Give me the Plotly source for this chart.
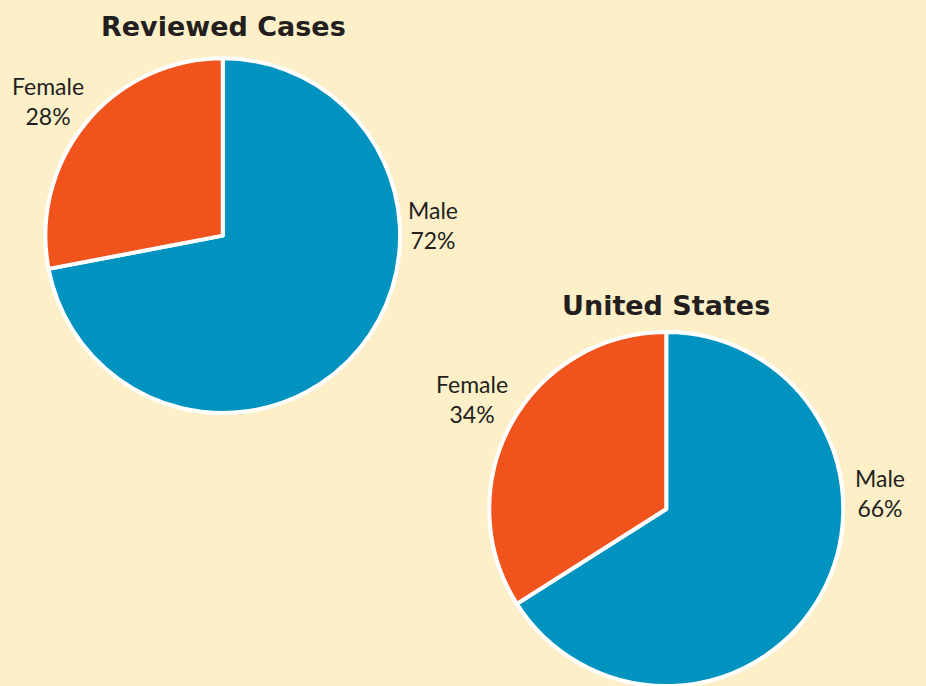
import plotly.graph_objects as go

BG = "#FDF0C9"
BLUE = "#0093BF"
ORANGE = "#F0531C"
INK = "#231F20"

labels = ["Male", "Female"]
reviewed_pct = [72, 28]
us_pct = [66, 34]
titles = ["Reviewed Cases", "United States"]

fig = go.Figure()

fig.add_trace(go.Pie(
    labels=labels, values=reviewed_pct, sort=False,
    direction="clockwise", rotation=0,
    marker=dict(colors=[BLUE, ORANGE], line=dict(color="white", width=4)),
    textinfo="none", hoverinfo="label+percent", showlegend=False,
    domain=dict(x=[0.0486, 0.4325], y=[0.398, 0.915]),
))

fig.add_trace(go.Pie(
    labels=labels, values=us_pct, sort=False,
    direction="clockwise", rotation=0,
    marker=dict(colors=[BLUE, ORANGE], line=dict(color="white", width=4)),
    textinfo="none", hoverinfo="label+percent", showlegend=False,
    domain=dict(x=[0.528, 0.911], y=[0.0, 0.516]),
))

title_font = dict(family="DejaVu Sans, sans-serif", size=27, color=INK)
label_font = dict(family="Lato, sans-serif", size=23, color=INK)

annotations = [
    dict(x=223 / 926, y=1 - 27 / 686, text=f"<b>{titles[0]}</b>", font=title_font),
    dict(x=666 / 926, y=1 - 305 / 686, text=f"<b>{titles[1]}</b>", font=title_font),
    dict(x=48 / 926, y=1 - 101 / 686, text=f"{labels[1]}<br>{reviewed_pct[1]}%", font=label_font),
    dict(x=433 / 926, y=1 - 225 / 686, text=f"{labels[0]}<br>{reviewed_pct[0]}%", font=label_font),
    dict(x=472 / 926, y=1 - 399 / 686, text=f"{labels[1]}<br>{us_pct[1]}%", font=label_font),
    dict(x=880 / 926, y=1 - 493 / 686, text=f"{labels[0]}<br>{us_pct[0]}%", font=label_font),
]
for a in annotations:
    a.update(xref="paper", yref="paper", showarrow=False, xanchor="center", yanchor="middle")

fig.update_layout(
    width=926, height=686,
    margin=dict(l=0, r=0, t=0, b=0),
    paper_bgcolor=BG, plot_bgcolor=BG,
    annotations=annotations,
)

# drop the default page margin so the figure fills the window
fig.write_html(
    "out.html",
    config={"displayModeBar": False},
    post_script="document.body.style.margin='0';document.body.style.overflow='hidden';"
                f"document.body.style.background='{BG}';",
)
